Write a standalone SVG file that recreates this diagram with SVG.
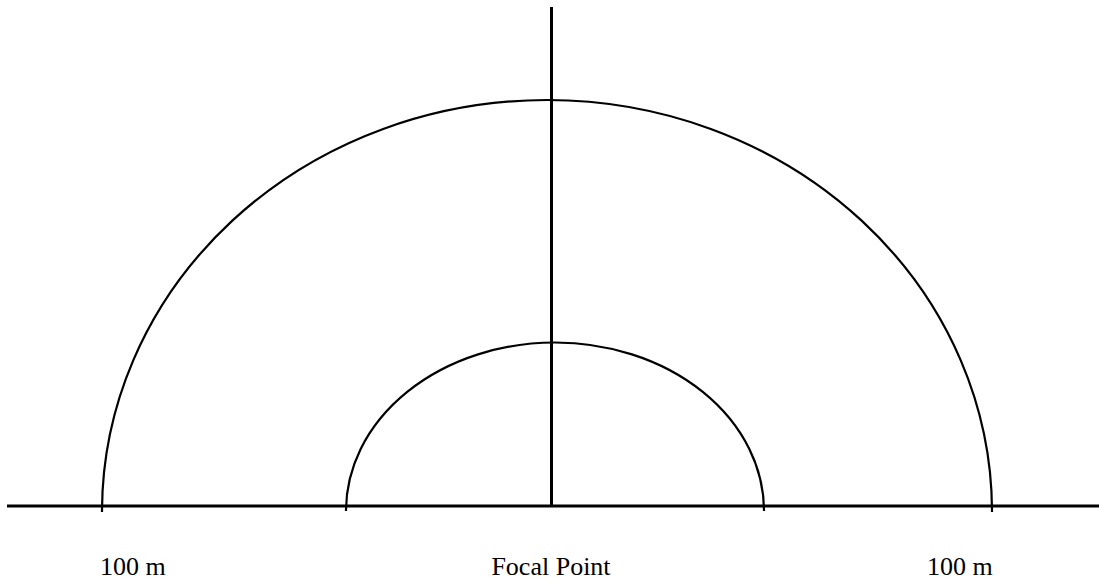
<svg xmlns="http://www.w3.org/2000/svg" width="1099" height="584" viewBox="0 0 1099 584">
<style>
.arc{fill:none;stroke:#000;stroke-width:2.2}
.ax{stroke:#000;stroke-width:3;fill:none}
.lbl{font-family:"Liberation Serif","Times New Roman",serif;font-size:26px;fill:#000}
</style>
<rect width="1099" height="584" fill="#fff"/>
<g id="connectors">
<line class="ax" x1="7" y1="506" x2="1099" y2="506"/>
<line class="ax" x1="551.5" y1="7" x2="551.5" y2="506"/>
</g>
<g id="outer-arc"><path class="arc" d="M 102 512 A 445 412 0 0 1 992 512"/></g>
<g id="inner-arc"><path class="arc" d="M 346 511 A 209 168.5 0 0 1 764 511"/></g>
<g id="label-left"><text class="lbl" x="100" y="575">100 m</text></g>
<g id="label-center"><text class="lbl" x="551" y="575" text-anchor="middle">Focal Point</text></g>
<g id="label-right"><text class="lbl" x="927" y="575">100 m</text></g>
</svg>
